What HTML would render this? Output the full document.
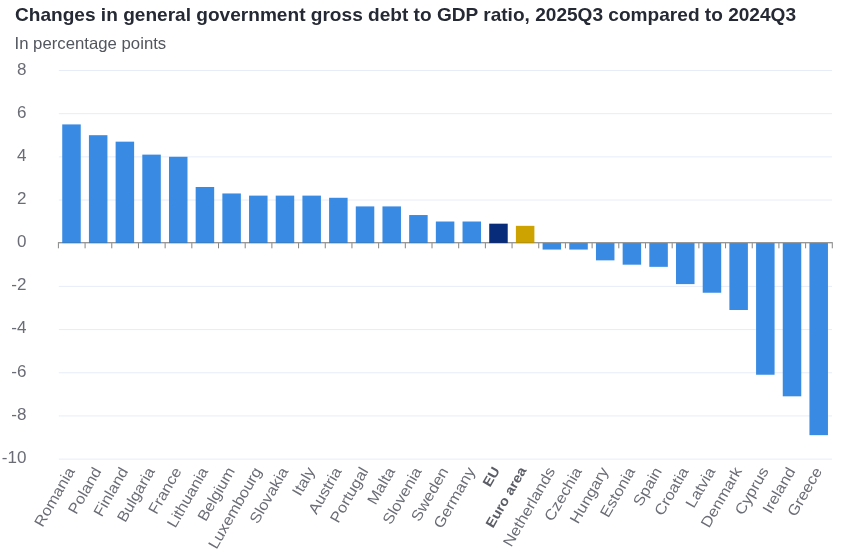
<!DOCTYPE html>
<html lang="en"><head><meta charset="utf-8"><title>Changes in general government gross debt to GDP ratio</title>
<style>html,body{margin:0;padding:0;background:#fff}svg{display:block}text{font-family:"Liberation Sans",Arial,sans-serif}</style></head><body>
<svg width="842" height="557" viewBox="0 0 842 557">
<rect width="842" height="557" fill="#fff"/>
<text transform="translate(15.00,20.50) scale(1.061,1.04)" font-size="18" fill="#252934" font-weight="bold">Changes in general government gross debt to GDP ratio, 2025Q3 compared to 2024Q3</text>
<text transform="translate(14.50,48.90) scale(1.047,1.03)" font-size="16" fill="#52565f">In percentage points</text>
<line x1="58.8" x2="832.0" y1="70.50" y2="70.50" stroke="#e7ecf9" stroke-width="1"/>
<text transform="translate(26.50,75.00) scale(1.065,0.985)" font-size="16" fill="#6a6c76" text-anchor="end">8</text>
<line x1="58.8" x2="832.0" y1="113.68" y2="113.68" stroke="#e7ecf9" stroke-width="1"/>
<text transform="translate(26.50,118.08) scale(1.065,0.985)" font-size="16" fill="#6a6c76" text-anchor="end">6</text>
<line x1="58.8" x2="832.0" y1="156.86" y2="156.86" stroke="#e7ecf9" stroke-width="1"/>
<text transform="translate(26.50,161.16) scale(1.065,0.985)" font-size="16" fill="#6a6c76" text-anchor="end">4</text>
<line x1="58.8" x2="832.0" y1="200.04" y2="200.04" stroke="#e7ecf9" stroke-width="1"/>
<text transform="translate(26.50,204.24) scale(1.065,0.985)" font-size="16" fill="#6a6c76" text-anchor="end">2</text>
<text transform="translate(26.50,247.32) scale(1.065,0.985)" font-size="16" fill="#6a6c76" text-anchor="end">0</text>
<line x1="58.8" x2="832.0" y1="286.40" y2="286.40" stroke="#e7ecf9" stroke-width="1"/>
<text transform="translate(26.50,290.40) scale(1.065,0.985)" font-size="16" fill="#6a6c76" text-anchor="end">-2</text>
<line x1="58.8" x2="832.0" y1="329.58" y2="329.58" stroke="#e7ecf9" stroke-width="1"/>
<text transform="translate(26.50,333.48) scale(1.065,0.985)" font-size="16" fill="#6a6c76" text-anchor="end">-4</text>
<line x1="58.8" x2="832.0" y1="372.76" y2="372.76" stroke="#e7ecf9" stroke-width="1"/>
<text transform="translate(26.50,376.56) scale(1.065,0.985)" font-size="16" fill="#6a6c76" text-anchor="end">-6</text>
<line x1="58.8" x2="832.0" y1="415.94" y2="415.94" stroke="#e7ecf9" stroke-width="1"/>
<text transform="translate(26.50,419.64) scale(1.065,0.985)" font-size="16" fill="#6a6c76" text-anchor="end">-8</text>
<line x1="58.8" x2="832.0" y1="459.12" y2="459.12" stroke="#e7ecf9" stroke-width="1"/>
<text transform="translate(26.50,462.72) scale(1.065,0.985)" font-size="16" fill="#6a6c76" text-anchor="end">-10</text>
<line x1="57.9" x2="832.8" y1="242.75" y2="242.75" stroke="#6b6b6b" stroke-opacity="0.8" stroke-width="1.1"/>
<rect x="62.24" y="124.41" width="18.5" height="118.69" fill="#388ae2"/>
<rect x="88.93" y="135.20" width="18.5" height="107.90" fill="#388ae2"/>
<rect x="115.62" y="141.67" width="18.5" height="101.43" fill="#388ae2"/>
<rect x="142.30" y="154.62" width="18.5" height="88.48" fill="#388ae2"/>
<rect x="168.99" y="156.78" width="18.5" height="86.32" fill="#388ae2"/>
<rect x="195.67" y="186.99" width="18.5" height="56.11" fill="#388ae2"/>
<rect x="222.36" y="193.47" width="18.5" height="49.63" fill="#388ae2"/>
<rect x="249.05" y="195.62" width="18.5" height="47.48" fill="#388ae2"/>
<rect x="275.73" y="195.62" width="18.5" height="47.48" fill="#388ae2"/>
<rect x="302.42" y="195.62" width="18.5" height="47.48" fill="#388ae2"/>
<rect x="329.10" y="197.78" width="18.5" height="45.32" fill="#388ae2"/>
<rect x="355.79" y="206.41" width="18.5" height="36.69" fill="#388ae2"/>
<rect x="382.47" y="206.41" width="18.5" height="36.69" fill="#388ae2"/>
<rect x="409.16" y="215.05" width="18.5" height="28.05" fill="#388ae2"/>
<rect x="435.85" y="221.52" width="18.5" height="21.58" fill="#388ae2"/>
<rect x="462.53" y="221.52" width="18.5" height="21.58" fill="#388ae2"/>
<rect x="489.22" y="223.68" width="18.5" height="19.42" fill="#082b7a"/>
<rect x="515.90" y="225.84" width="18.5" height="17.26" fill="#cca300"/>
<rect x="542.59" y="243.10" width="18.5" height="6.47" fill="#388ae2"/>
<rect x="569.28" y="243.10" width="18.5" height="6.47" fill="#388ae2"/>
<rect x="595.96" y="243.10" width="18.5" height="17.26" fill="#388ae2"/>
<rect x="622.65" y="243.10" width="18.5" height="21.58" fill="#388ae2"/>
<rect x="649.33" y="243.10" width="18.5" height="23.74" fill="#388ae2"/>
<rect x="676.02" y="243.10" width="18.5" height="41.00" fill="#388ae2"/>
<rect x="702.71" y="243.10" width="18.5" height="49.63" fill="#388ae2"/>
<rect x="729.39" y="243.10" width="18.5" height="66.90" fill="#388ae2"/>
<rect x="756.08" y="243.10" width="18.5" height="131.64" fill="#388ae2"/>
<rect x="782.76" y="243.10" width="18.5" height="153.22" fill="#388ae2"/>
<rect x="809.45" y="243.10" width="18.5" height="192.06" fill="#388ae2"/>
<line x1="57.9" x2="832.8" y1="242.75" y2="242.75" stroke="#444" stroke-opacity="0.2" stroke-width="1.1"/>
<line x1="58.40" x2="58.40" y1="243.1" y2="248.29999999999998" stroke="#858585" stroke-width="1"/>
<line x1="85.09" x2="85.09" y1="243.1" y2="248.29999999999998" stroke="#858585" stroke-width="1"/>
<line x1="111.77" x2="111.77" y1="243.1" y2="248.29999999999998" stroke="#858585" stroke-width="1"/>
<line x1="138.46" x2="138.46" y1="243.1" y2="248.29999999999998" stroke="#858585" stroke-width="1"/>
<line x1="165.14" x2="165.14" y1="243.1" y2="248.29999999999998" stroke="#858585" stroke-width="1"/>
<line x1="191.83" x2="191.83" y1="243.1" y2="248.29999999999998" stroke="#858585" stroke-width="1"/>
<line x1="218.52" x2="218.52" y1="243.1" y2="248.29999999999998" stroke="#858585" stroke-width="1"/>
<line x1="245.20" x2="245.20" y1="243.1" y2="248.29999999999998" stroke="#858585" stroke-width="1"/>
<line x1="271.89" x2="271.89" y1="243.1" y2="248.29999999999998" stroke="#858585" stroke-width="1"/>
<line x1="298.57" x2="298.57" y1="243.1" y2="248.29999999999998" stroke="#858585" stroke-width="1"/>
<line x1="325.26" x2="325.26" y1="243.1" y2="248.29999999999998" stroke="#858585" stroke-width="1"/>
<line x1="351.95" x2="351.95" y1="243.1" y2="248.29999999999998" stroke="#858585" stroke-width="1"/>
<line x1="378.63" x2="378.63" y1="243.1" y2="248.29999999999998" stroke="#858585" stroke-width="1"/>
<line x1="405.32" x2="405.32" y1="243.1" y2="248.29999999999998" stroke="#858585" stroke-width="1"/>
<line x1="432.00" x2="432.00" y1="243.1" y2="248.29999999999998" stroke="#858585" stroke-width="1"/>
<line x1="458.69" x2="458.69" y1="243.1" y2="248.29999999999998" stroke="#858585" stroke-width="1"/>
<line x1="485.38" x2="485.38" y1="243.1" y2="248.29999999999998" stroke="#858585" stroke-width="1"/>
<line x1="512.06" x2="512.06" y1="243.1" y2="248.29999999999998" stroke="#858585" stroke-width="1"/>
<line x1="538.75" x2="538.75" y1="243.1" y2="248.29999999999998" stroke="#858585" stroke-width="1"/>
<line x1="565.43" x2="565.43" y1="243.1" y2="248.29999999999998" stroke="#858585" stroke-width="1"/>
<line x1="592.12" x2="592.12" y1="243.1" y2="248.29999999999998" stroke="#858585" stroke-width="1"/>
<line x1="618.81" x2="618.81" y1="243.1" y2="248.29999999999998" stroke="#858585" stroke-width="1"/>
<line x1="645.49" x2="645.49" y1="243.1" y2="248.29999999999998" stroke="#858585" stroke-width="1"/>
<line x1="672.18" x2="672.18" y1="243.1" y2="248.29999999999998" stroke="#858585" stroke-width="1"/>
<line x1="698.86" x2="698.86" y1="243.1" y2="248.29999999999998" stroke="#858585" stroke-width="1"/>
<line x1="725.55" x2="725.55" y1="243.1" y2="248.29999999999998" stroke="#858585" stroke-width="1"/>
<line x1="752.24" x2="752.24" y1="243.1" y2="248.29999999999998" stroke="#858585" stroke-width="1"/>
<line x1="778.92" x2="778.92" y1="243.1" y2="248.29999999999998" stroke="#858585" stroke-width="1"/>
<line x1="805.61" x2="805.61" y1="243.1" y2="248.29999999999998" stroke="#858585" stroke-width="1"/>
<line x1="832.29" x2="832.29" y1="243.1" y2="248.29999999999998" stroke="#858585" stroke-width="1"/>
<text transform="translate(75.24,471) rotate(-60) scale(1.095,1.0)" font-size="15" fill="#6a6c76" text-anchor="end">Romania</text>
<text transform="translate(101.93,471) rotate(-60) scale(1.095,1.0)" font-size="15" fill="#6a6c76" text-anchor="end">Poland</text>
<text transform="translate(128.62,471) rotate(-60) scale(1.095,1.0)" font-size="15" fill="#6a6c76" text-anchor="end">Finland</text>
<text transform="translate(155.30,471) rotate(-60) scale(1.095,1.0)" font-size="15" fill="#6a6c76" text-anchor="end">Bulgaria</text>
<text transform="translate(181.99,471) rotate(-60) scale(1.095,1.0)" font-size="15" fill="#6a6c76" text-anchor="end">France</text>
<text transform="translate(208.67,471) rotate(-60) scale(1.095,1.0)" font-size="15" fill="#6a6c76" text-anchor="end">Lithuania</text>
<text transform="translate(235.36,471) rotate(-60) scale(1.095,1.0)" font-size="15" fill="#6a6c76" text-anchor="end">Belgium</text>
<text transform="translate(262.05,471) rotate(-60) scale(1.095,1.0)" font-size="15" fill="#6a6c76" text-anchor="end">Luxembourg</text>
<text transform="translate(288.73,471) rotate(-60) scale(1.095,1.0)" font-size="15" fill="#6a6c76" text-anchor="end">Slovakia</text>
<text transform="translate(315.42,471) rotate(-60) scale(1.095,1.0)" font-size="15" fill="#6a6c76" text-anchor="end">Italy</text>
<text transform="translate(342.10,471) rotate(-60) scale(1.095,1.0)" font-size="15" fill="#6a6c76" text-anchor="end">Austria</text>
<text transform="translate(368.79,471) rotate(-60) scale(1.095,1.0)" font-size="15" fill="#6a6c76" text-anchor="end">Portugal</text>
<text transform="translate(395.47,471) rotate(-60) scale(1.095,1.0)" font-size="15" fill="#6a6c76" text-anchor="end">Malta</text>
<text transform="translate(422.16,471) rotate(-60) scale(1.095,1.0)" font-size="15" fill="#6a6c76" text-anchor="end">Slovenia</text>
<text transform="translate(448.85,471) rotate(-60) scale(1.095,1.0)" font-size="15" fill="#6a6c76" text-anchor="end">Sweden</text>
<text transform="translate(475.53,471) rotate(-60) scale(1.095,1.0)" font-size="15" fill="#6a6c76" text-anchor="end">Germany</text>
<text transform="translate(500.22,470.2) rotate(-60) scale(1.095,1.0)" font-size="13.4" fill="#5a5d66" text-anchor="end" font-weight="bold">EU</text>
<text transform="translate(526.90,470.2) rotate(-60) scale(1.095,1.0)" font-size="13.4" fill="#5a5d66" text-anchor="end" font-weight="bold">Euro area</text>
<text transform="translate(555.59,471) rotate(-60) scale(1.095,1.0)" font-size="15" fill="#6a6c76" text-anchor="end">Netherlands</text>
<text transform="translate(582.28,471) rotate(-60) scale(1.095,1.0)" font-size="15" fill="#6a6c76" text-anchor="end">Czechia</text>
<text transform="translate(608.96,471) rotate(-60) scale(1.095,1.0)" font-size="15" fill="#6a6c76" text-anchor="end">Hungary</text>
<text transform="translate(635.65,471) rotate(-60) scale(1.095,1.0)" font-size="15" fill="#6a6c76" text-anchor="end">Estonia</text>
<text transform="translate(662.33,471) rotate(-60) scale(1.095,1.0)" font-size="15" fill="#6a6c76" text-anchor="end">Spain</text>
<text transform="translate(689.02,471) rotate(-60) scale(1.095,1.0)" font-size="15" fill="#6a6c76" text-anchor="end">Croatia</text>
<text transform="translate(715.71,471) rotate(-60) scale(1.095,1.0)" font-size="15" fill="#6a6c76" text-anchor="end">Latvia</text>
<text transform="translate(742.39,471) rotate(-60) scale(1.095,1.0)" font-size="15" fill="#6a6c76" text-anchor="end">Denmark</text>
<text transform="translate(769.08,471) rotate(-60) scale(1.095,1.0)" font-size="15" fill="#6a6c76" text-anchor="end">Cyprus</text>
<text transform="translate(795.76,471) rotate(-60) scale(1.095,1.0)" font-size="15" fill="#6a6c76" text-anchor="end">Ireland</text>
<text transform="translate(822.45,471) rotate(-60) scale(1.095,1.0)" font-size="15" fill="#6a6c76" text-anchor="end">Greece</text>
</svg></body></html>
